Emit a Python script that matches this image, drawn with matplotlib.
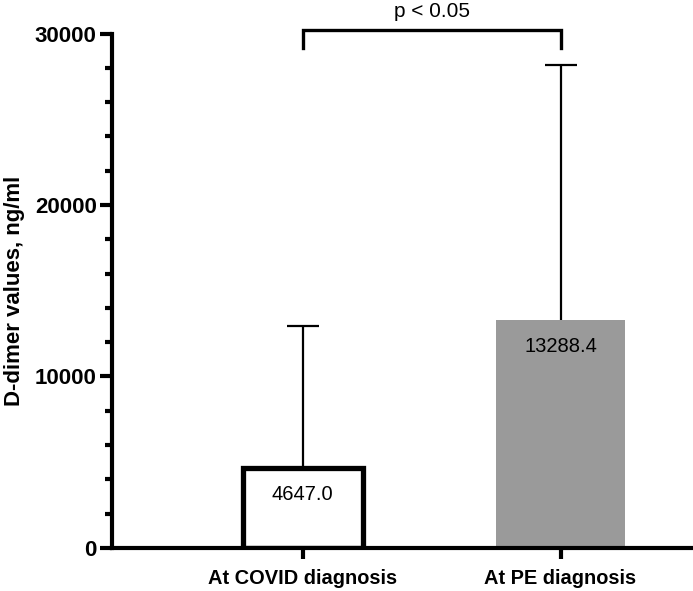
import numpy as np
import matplotlib.pyplot as plt

plt.rcParams['font.family'] = ['Liberation Sans', 'DejaVu Sans']

# Data
groups = ['At COVID diagnosis', 'At PE diagnosis']
means = [4647.0, 13288.4]
sd_upper = [8300, 14900]
bar_labels = ['4647.0', '13288.4']
p_text = 'p < 0.05'
yticks = [0, 10000, 20000, 30000]

fig = plt.figure(figsize=(6.93, 5.91), dpi=100)
ax = fig.add_axes([0.1616, 0.0728, 0.837, 0.8705])

x = np.arange(len(groups))
tops = np.array(means) + np.array(sd_upper)

# upper error bars only, drawn behind the bars
ax.vlines(x, means, tops, color='black', lw=1.6, zorder=1)
ax.hlines(tops, x - 0.062, x + 0.062, color='black', lw=1.6, zorder=1)

ax.bar(x[0], means[0], width=0.465, color='white', edgecolor='black',
       linewidth=3.8, zorder=2)
ax.bar(x[1], means[1], width=0.5, color='#9a9a9a', edgecolor='none', zorder=2)

for xi, m, lab in zip(x, means, bar_labels):
    ax.annotate(lab, (xi, m), xytext=(0, -19), textcoords='offset points',
                ha='center', va='center', fontsize=14.5, zorder=3)

# significance bracket
top = 30200
leg = 29150
ax.plot([x[0], x[0], x[1], x[1]], [leg, top, top, leg], color='black',
        lw=2.4, clip_on=False, solid_joinstyle='miter', zorder=3)
ax.text((x[0] + x[1]) / 2, top + 550, p_text, ha='center', va='bottom',
        fontsize=15)

ax.set_xlim(-0.74, 1.51)
ax.set_ylim(0, 30000)
ax.set_yticks(yticks)
ax.set_yticks(np.arange(0, 30001, 2000), minor=True)
ax.set_xticks(x)
ax.set_xticklabels(groups, fontsize=14.4, fontweight='bold')
ax.tick_params(axis='y', which='major', length=9, width=3, labelsize=16, pad=2)
ax.tick_params(axis='y', which='minor', length=5, width=3)
ax.tick_params(axis='x', which='major', length=8, width=3, pad=7)
for lab in ax.get_yticklabels():
    lab.set_fontweight('bold')

ax.set_ylabel('D-dimer values, ng/ml', fontsize=16, fontweight='bold', labelpad=7)

for s in ['top', 'right']:
    ax.spines[s].set_visible(False)
for s in ['left', 'bottom']:
    ax.spines[s].set_linewidth(3)

fig.savefig('out.png', dpi=100)
